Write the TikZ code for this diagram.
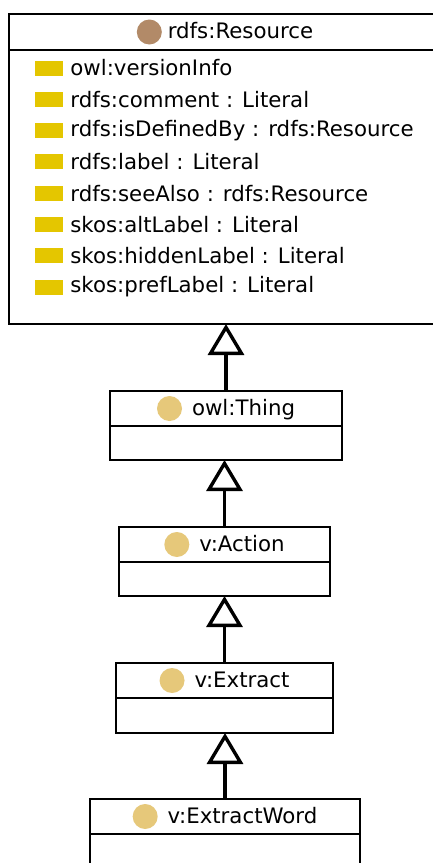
\documentclass[tikz,border=0pt]{standalone}
\usepackage{fontspec}
\setmainfont{DejaVu Sans}
\usepackage{xcolor}
\usepackage{tikz}
\usetikzlibrary{arrows.meta, positioning}

\definecolor{resbrown}{RGB}{178,138,104}
\definecolor{clsgold}{RGB}{230,200,122}
\definecolor{propyellow}{RGB}{228,198,0}
\newcommand{\clsdot}[1]{\tikz[baseline=-0.6ex]\fill[#1] (0,0) circle (12.5pt);}

\begin{document}
\begin{tikzpicture}[
  x=1pt, y=-1pt,
  font=\fontsize{21.3}{24}\selectfont,
  hdr/.style={
    draw, line width=2pt, outer sep=0pt,
    minimum height=35pt, inner sep=0pt
  },
  body/.style={
    draw, line width=2pt, outer sep=0pt,
    minimum height=34pt, inner sep=0pt
  },
  swatch/.style={
    fill=propyellow, minimum width=28pt, minimum height=15pt, inner sep=0pt
  },
  prop/.style={inner sep=0pt},
  gen/.style={-{Triangle[open, length=31pt, width=36pt]}, line width=3.4pt},
]
\useasboundingbox[fill=white] (0,0) rectangle (433,863);
\clip (0,0) rectangle (433,863);

%% Root class with its properties
\node[hdr, minimum width=432pt, minimum height=36pt] (resource)
    at (225,32) {\clsdot{resbrown}\hspace{6pt}rdfs:Resource};
\node[body, minimum width=432pt, minimum height=274pt, below=0pt of resource] (resourcebody) {};

\foreach \prop [count=\i] in {owl:versionInfo, rdfs:comment : Literal,
    rdfs:isDefinedBy : rdfs:Resource, rdfs:label : Literal,
    rdfs:seeAlso : rdfs:Resource, skos:altLabel : Literal,
    skos:hiddenLabel : Literal, skos:prefLabel : Literal} {
  \node[swatch] (sw\i) at (49, {36.7+31.3*\i}) {};
  \node[prop, right=7pt of sw\i] (prop\i) {\prop};
}

%% Subclass chain
\node[hdr, minimum width=232pt] (thing) at (226,408.5) {\clsdot{clsgold}\hspace{10pt}owl:Thing};
\node[body, minimum width=232pt, below=0pt of thing] (thingbody) {};

\node[hdr, minimum width=211pt] (action) at (224.5,544.5) {\clsdot{clsgold}\hspace{10pt}v:Action};
\node[body, minimum width=211pt, below=0pt of action] (actionbody) {};

\node[hdr, minimum width=217pt] (extract) at (224.5,680.5) {\clsdot{clsgold}\hspace{10pt}v:Extract};
\node[body, minimum width=217pt, minimum height=35pt, below=0pt of extract] (extractbody) {};

\node[hdr, minimum width=270pt] (extractword) at (225,816.5) {\clsdot{clsgold}\hspace{10pt}v:ExtractWord};
\node[body, minimum width=270pt, below=0pt of extractword] (extractwordbody) {};

%% Generalisation arrows
\draw[gen] (thing.north)       -- (thing.north |- resourcebody.south);
\draw[gen] (action.north)      -- (action.north |- thingbody.south);
\draw[gen] (extract.north)     -- (extract.north |- actionbody.south);
\draw[gen] (extractword.north) -- (extractword.north |- extractbody.south);
\end{tikzpicture}
\end{document}
